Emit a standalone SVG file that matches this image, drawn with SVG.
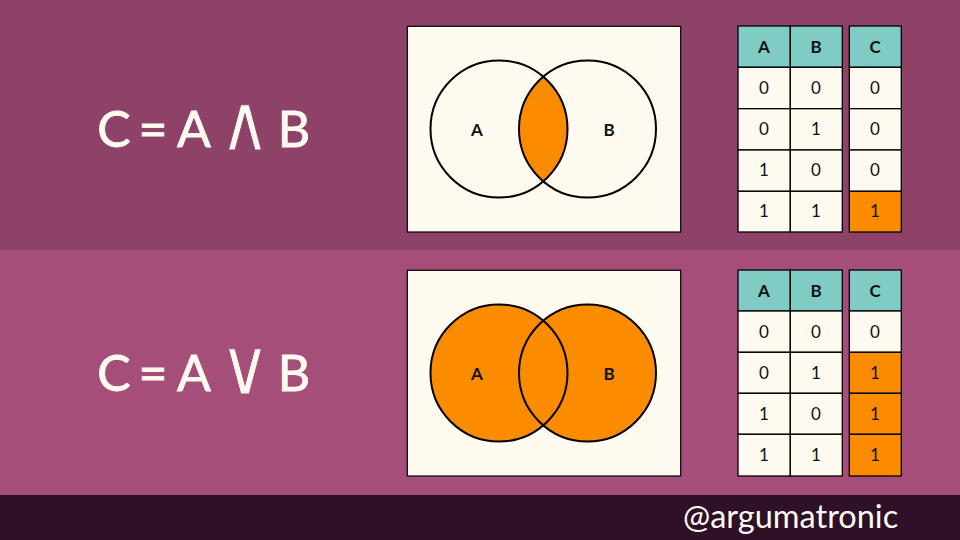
<svg xmlns="http://www.w3.org/2000/svg" width="960" height="540" viewBox="0 0 960 540">
<style>
.eq{font-family:Lato,"Noto Sans","DejaVu Sans",sans-serif;font-size:50px;fill:#FFFAEF;stroke:#FFFAEF;stroke-width:0.9;text-anchor:middle}
.op{font-family:"DejaVu Sans",sans-serif;font-size:58px;font-weight:normal;fill:#FFFAEF;text-anchor:middle;stroke-width:0.8}
.box{fill:#FFFAEF;stroke:#000;stroke-width:1.2}
.circ{fill:none;stroke:#000;stroke-width:2}
.lbl{font-family:Lato,"DejaVu Sans",sans-serif;font-size:17px;font-weight:bold;fill:#111;text-anchor:middle}
.cell{fill:#FFFAEF;stroke:#000;stroke-width:1.3}
.hd{fill:#80CBC4;stroke:#000;stroke-width:1.3}
.on{fill:#FB8C00;stroke:#000;stroke-width:1.3}
.ht{font-family:Lato,"DejaVu Sans",sans-serif;font-size:17px;font-weight:bold;fill:#111;text-anchor:middle}
.ct{font-family:Lato,"DejaVu Sans",sans-serif;font-size:17px;fill:#111;text-anchor:middle}
.foot{font-family:Lato,"DejaVu Sans",sans-serif;font-size:32.5px;fill:#FFFAEF}
</style>
<rect x="0" y="0" width="960" height="250" fill="#8E4268"/>
<rect x="0" y="250" width="960" height="246" fill="#A64E7A"/>
<rect x="0" y="495" width="960" height="45" fill="#2E1028"/>

<g id="eq-and">
<text class="eq" x="114" y="147">C</text>
<text class="eq" x="153" y="147">=</text>
<text class="eq" x="194" y="147">A</text>
<text class="op" stroke="#8E4268" transform="translate(245,150) scale(1.2,1.35)">∧</text>
<text class="eq" x="294" y="147">B</text>
</g>
<g id="eq-or">
<text class="eq" x="114" y="391">C</text>
<text class="eq" x="153" y="391">=</text>
<text class="eq" x="194" y="391">A</text>
<text class="op" stroke="#A64E7A" transform="translate(245,394) scale(1.2,1.35)">∨</text>
<text class="eq" x="294" y="391">B</text>
</g>

<g id="venn-and">
<rect class="box" x="407.3" y="26.3" width="273.4" height="205.7"/>
<path d="M543.25 76.7 A68.5 68.5 0 0 1 543.25 181.3 A68.5 68.5 0 0 1 543.25 76.7 Z" fill="#FB8C00"/>
<circle class="circ" cx="499" cy="129" r="68.5"/>
<circle class="circ" cx="587.5" cy="129" r="68.5"/>
<text class="lbl" x="477" y="136">A</text>
<text class="lbl" x="609" y="136">B</text>
</g>

<g id="venn-or">
<rect class="box" x="407.3" y="270.3" width="273.4" height="205.7"/>
<circle cx="499" cy="373" r="68.5" fill="#FB8C00"/>
<circle cx="587.5" cy="373" r="68.5" fill="#FB8C00"/>
<circle class="circ" cx="499" cy="373" r="68.5"/>
<circle class="circ" cx="587.5" cy="373" r="68.5"/>
<text class="lbl" x="477" y="380">A</text>
<text class="lbl" x="609" y="380">B</text>
</g>

<g id="table-and">
<rect class="hd" x="738" y="26" width="52.3" height="41.3"/>
<rect class="hd" x="790.3" y="26" width="52" height="41.3"/>
<rect class="hd" x="849.3" y="26" width="52" height="41.3"/>
<rect class="cell" x="738" y="67.3" width="52.3" height="41.4"/>
<rect class="cell" x="790.3" y="67.3" width="52" height="41.4"/>
<rect class="cell" x="849.3" y="67.3" width="52" height="41.4"/>
<rect class="cell" x="738" y="108.7" width="52.3" height="41.3"/>
<rect class="cell" x="790.3" y="108.7" width="52" height="41.3"/>
<rect class="cell" x="849.3" y="108.7" width="52" height="41.3"/>
<rect class="cell" x="738" y="150" width="52.3" height="41.3"/>
<rect class="cell" x="790.3" y="150" width="52" height="41.3"/>
<rect class="cell" x="849.3" y="150" width="52" height="41.3"/>
<rect class="cell" x="738" y="191.3" width="52.3" height="40.7"/>
<rect class="cell" x="790.3" y="191.3" width="52" height="40.7"/>
<rect class="on" x="849.3" y="191.3" width="52" height="40.7"/>
<text class="ht" x="764" y="53">A</text><text class="ht" x="816" y="53">B</text><text class="ht" x="875" y="53">C</text>
<text class="ct" x="764" y="94">0</text><text class="ct" x="816" y="94">0</text><text class="ct" x="875" y="94">0</text>
<text class="ct" x="764" y="135">0</text><text class="ct" x="816" y="135">1</text><text class="ct" x="875" y="135">0</text>
<text class="ct" x="764" y="176">1</text><text class="ct" x="816" y="176">0</text><text class="ct" x="875" y="176">0</text>
<text class="ct" x="764" y="217">1</text><text class="ct" x="816" y="217">1</text><text class="ct" x="875" y="217">1</text>
</g>

<g id="table-or">
<rect class="hd" x="738" y="270" width="52.3" height="41"/>
<rect class="hd" x="790.3" y="270" width="52" height="41"/>
<rect class="hd" x="849.3" y="270" width="52" height="41"/>
<rect class="cell" x="738" y="311" width="52.3" height="41.3"/>
<rect class="cell" x="790.3" y="311" width="52" height="41.3"/>
<rect class="cell" x="849.3" y="311" width="52" height="41.3"/>
<rect class="cell" x="738" y="352.3" width="52.3" height="41"/>
<rect class="cell" x="790.3" y="352.3" width="52" height="41"/>
<rect class="on" x="849.3" y="352.3" width="52" height="41"/>
<rect class="cell" x="738" y="393.3" width="52.3" height="41"/>
<rect class="cell" x="790.3" y="393.3" width="52" height="41"/>
<rect class="on" x="849.3" y="393.3" width="52" height="41"/>
<rect class="cell" x="738" y="434.3" width="52.3" height="41.7"/>
<rect class="cell" x="790.3" y="434.3" width="52" height="41.7"/>
<rect class="on" x="849.3" y="434.3" width="52" height="41.7"/>
<text class="ht" x="764" y="297">A</text><text class="ht" x="816" y="297">B</text><text class="ht" x="875" y="297">C</text>
<text class="ct" x="764" y="338">0</text><text class="ct" x="816" y="338">0</text><text class="ct" x="875" y="338">0</text>
<text class="ct" x="764" y="379">0</text><text class="ct" x="816" y="379">1</text><text class="ct" x="875" y="379">1</text>
<text class="ct" x="764" y="420">1</text><text class="ct" x="816" y="420">0</text><text class="ct" x="875" y="420">1</text>
<text class="ct" x="764" y="461">1</text><text class="ct" x="816" y="461">1</text><text class="ct" x="875" y="461">1</text>
</g>

<g id="footer"><text class="foot" x="683" y="528">@argumatronic</text></g>
</svg>
